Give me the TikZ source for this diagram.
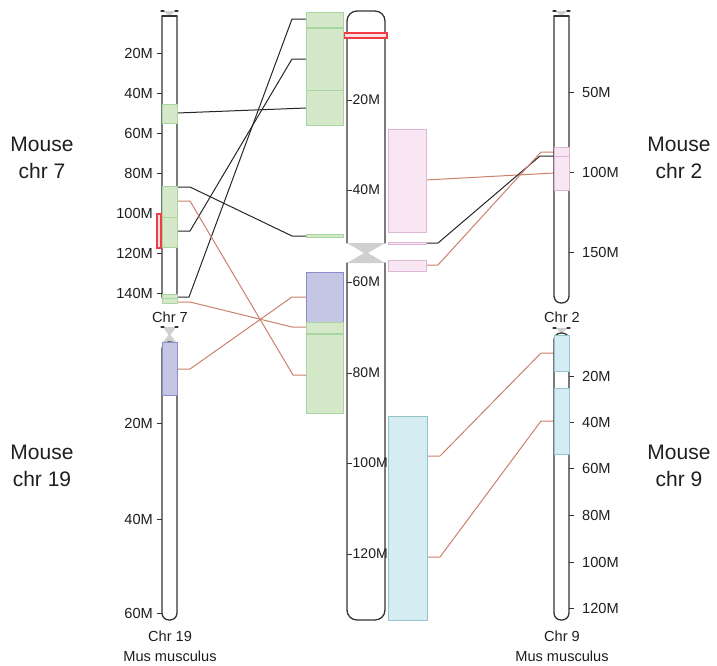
\documentclass[tikz,border=0pt]{standalone}
\usepackage{fontspec}
\setmainfont{Liberation Sans}
\definecolor{grnF}{RGB}{213,232,202}
\definecolor{grnD}{RGB}{168,214,158}
\definecolor{bluF}{RGB}{196,198,228}
\definecolor{bluD}{RGB}{140,140,205}
\definecolor{pnkF}{RGB}{248,230,242}
\definecolor{pnkD}{RGB}{222,182,214}
\definecolor{cyaF}{RGB}{212,236,242}
\definecolor{cyaD}{RGB}{145,198,204}
\definecolor{orgC}{RGB}{203,128,108}
\definecolor{redC}{RGB}{240,60,70}
\definecolor{cenC}{RGB}{208,208,208}
\definecolor{txtC}{RGB}{30,30,30}
\begin{document}
\begin{tikzpicture}[x=1pt,y=-1pt,
  chrom/.style={draw=black!80, line width=1.3pt, line cap=round},
  gblock/.style={fill=grnF, draw=grnD, line width=1pt},
  bblock/.style={fill=bluF, draw=bluD, line width=1pt},
  pblock/.style={fill=pnkF, draw=pnkD, line width=1pt},
  cblock/.style={fill=cyaF, draw=cyaD, line width=1pt},
  redbox/.style={draw=redC, fill=redC!15, line width=1.1pt},
  cen/.style={fill=cenC, draw=none},
  blkline/.style={draw=black!85, line width=1pt},
  orgline/.style={draw=orgC, line width=1pt},
  tickmark/.style={draw=black!80, line width=0.9pt},
  ticklab/.style={font=\fontsize{14.6}{17}\selectfont, text=txtC, inner sep=0pt},
  inlab/.style={font=\fontsize{14}{16}\selectfont, text=txtC, inner sep=0pt},
  biglab/.style={font=\fontsize{21}{27}\selectfont, text=txtC, align=center, inner sep=0pt}
]
\useasboundingbox (0,0) rectangle (717,665);

% ---------- connectors (drawn first) ----------
% left side, black
\coordinate (a1) at (177,113); \coordinate (b1) at (306,108);
\draw[blkline] (a1) -- (b1);
\coordinate (a2) at (177,187); \coordinate (b2) at (306,236);
\draw[blkline] (a2) -- ++(13,0) -- (292,236) -- (b2);
\coordinate (a3) at (177,231); \coordinate (b3) at (306,59);
\draw[blkline] (a3) -- ++(13,0) -- (292,59) -- (b3);
\coordinate (a4) at (177,297); \coordinate (b4) at (306,19);
\draw[blkline] (a4) -- ++(12,0) -- (292,19) -- (b4);
% left side, orange
\coordinate (a5) at (177,201); \coordinate (b5) at (306,375);
\draw[orgline] (a5) -- ++(13,0) -- (293,375) -- (b5);
\coordinate (a6) at (177,302); \coordinate (b6) at (306,327);
\draw[orgline] (a6) -- ++(13,0) -- (292,327) -- (b6);
\coordinate (a7) at (177,369); \coordinate (b7) at (306,297);
\draw[orgline] (a7) -- ++(13,0) -- (292,297) -- (b7);
% right side
\coordinate (c8) at (426,180); \coordinate (d8) at (554,173);
\draw[orgline] (c8) -- (d8);
\coordinate (c9) at (426,243); \coordinate (d9) at (554,156);
\draw[blkline] (c9) -- ++(12,0) -- (540,156) -- (d9);
\coordinate (c10) at (426,265); \coordinate (d10) at (554,152);
\draw[orgline] (c10) -- ++(12,0) -- (541,152) -- (d10);
\coordinate (c11) at (427,456); \coordinate (d11) at (554,353);
\draw[orgline] (c11) -- ++(13,0) -- (541,353) -- (d11);
\coordinate (c12) at (427,557); \coordinate (d12) at (554,421);
\draw[orgline] (c12) -- ++(13,0) -- (541,421) -- (d12);

% ---------- Chr 7 (left top) ----------
\fill[cen] (163,11) -- (176,11) -- (169.5,16) -- cycle;
\draw[chrom] (161,11) -- (164,11) (175,11) -- (178,11);
\draw[chrom, rounded corners=7] (162,16) -- (162,303) -- (177,303) -- (177,16);
\draw[chrom] (162,16) -- (177,16);
\foreach \y/\t in {53/20M,93/40M,133/60M,173/80M,213/100M,253/120M,293/140M}{
  \draw[tickmark] (157,\y) -- (162,\y);
  \node[ticklab, anchor=east] at (153,\y) {\t};
}
\draw[gblock] (162,104) rectangle (177,123);
\draw[gblock] (162,186) rectangle (177,217);
\draw[gblock] (162,217) rectangle (177,247);
\draw[gblock] (162,294) rectangle (177,298);
\draw[gblock] (162,298) rectangle (177,303);
\draw[redbox] (157,214) rectangle (161,248);
\node[ticklab] (lc7) at (170,317) {Chr 7};

% ---------- Chr 19 (left bottom) ----------
\fill[cen] (163,327) -- (176,327) -- (170.5,335) -- (176,342) -- (163,342) -- (168.5,335) -- cycle;
\draw[chrom] (161,327) -- (164,327) (175,327) -- (178,327);
\draw[chrom, rounded corners=7] (162,342) -- (162,620) -- (177,620) -- (177,342) -- cycle;
\foreach \y/\t in {423/20M,519/40M,613/60M}{
  \draw[tickmark] (157,\y) -- (162,\y);
  \node[ticklab, anchor=east] at (153,\y) {\t};
}
\draw[bblock] (162,342) rectangle (177,395);
\node[ticklab] (lc19) at (170,636) {Chr 19};
\node[ticklab] (lm19) at (170,656) {Mus musculus};

% ---------- reference chromosome (centre) ----------
\fill[cen] (347,243) -- (385,243) -- (368,253) -- (385,263) -- (347,263) -- (364,253) -- cycle;
\draw[chrom, rounded corners=10] (347,243) -- (347,11) -- (385,11) -- (385,243);
\draw[chrom, rounded corners=10] (347,263) -- (347,620) -- (385,620) -- (385,263);
\foreach \y/\t in {100/20M,190/40M,282/60M,373/80M,463/100M,554/120M}{
  \draw[tickmark] (347,\y) -- (352,\y);
  \node[inlab, anchor=west] at (352.5,\y) {\t};
}
\draw[redbox] (344,33) rectangle (387,38);
% blocks to the left of the centre
\draw[gblock] (306,12) rectangle (343,27);
\draw[gblock] (306,28) rectangle (343,90);
\draw[gblock] (306,90) rectangle (343,125);
\draw[gblock] (306,234) rectangle (343,237);
\draw[bblock] (306,272) rectangle (343,322);
\draw[gblock] (306,322) rectangle (343,333);
\draw[gblock] (306,334) rectangle (343,413);
% blocks to the right of the centre
\draw[pblock] (388,129) rectangle (426,232);
\draw[pblock] (388,242.5) rectangle (426,244);
\draw[pblock] (388,260) rectangle (426,271);
\draw[cblock] (388,416) rectangle (427,620);

% ---------- Chr 2 (right top) ----------
\fill[cen] (555,11) -- (568,11) -- (561.5,16) -- cycle;
\draw[chrom] (553,11) -- (556,11) (567,11) -- (570,11);
\draw[chrom, rounded corners=7] (554,16) -- (554,303) -- (569,303) -- (569,16);
\draw[chrom] (554,16) -- (569,16);
\foreach \y/\t in {92/50M,172/100M,252/150M}{
  \draw[tickmark] (569,\y) -- (574,\y);
  \node[ticklab, anchor=west] at (582,\y) {\t};
}
\draw[pblock] (554,147) rectangle (569,156);
\draw[pblock] (554,156) rectangle (569,190);
\node[ticklab] (lc2) at (562,317) {Chr 2};

% ---------- Chr 9 (right bottom) ----------
\fill[cen] (555,328) -- (568,328) -- (561.5,333) -- cycle;
\draw[chrom] (553,328) -- (556,328) (567,328) -- (570,328);
\draw[chrom, rounded corners=7] (554,333) -- (554,620) -- (569,620) -- (569,333) -- cycle;
\foreach \y/\t in {376/20M,422/40M,468/60M,515/80M,562/100M,608/120M}{
  \draw[tickmark] (569,\y) -- (574,\y);
  \node[ticklab, anchor=west] at (582,\y) {\t};
}
\draw[cblock] (554,335) rectangle (569,371);
\draw[cblock] (554,388) rectangle (569,454);
\node[ticklab] (lc9) at (562,636) {Chr 9};
\node[ticklab] (lm9) at (562,656) {Mus musculus};

% ---------- species labels ----------
\node[biglab] (m7)  at (42,158) {Mouse\\chr 7};
\node[biglab] (m19) at (42,466) {Mouse\\chr 19};
\node[biglab] (m2)  at (679,158) {Mouse\\chr 2};
\node[biglab] (m9)  at (679,466) {Mouse\\chr 9};
\end{tikzpicture}
\end{document}
